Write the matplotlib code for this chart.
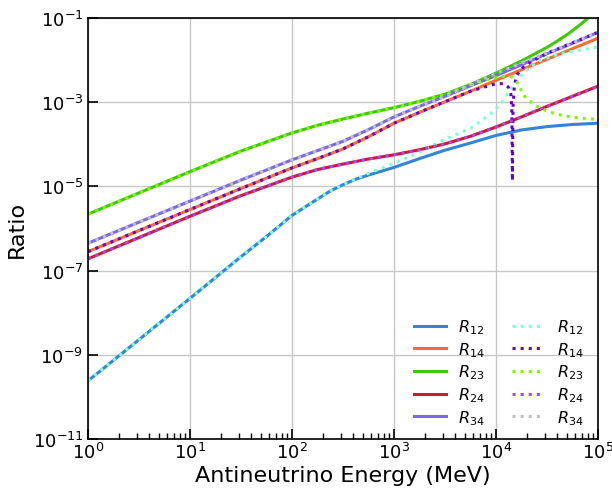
import numpy as np
import matplotlib
matplotlib.use("Agg")
import matplotlib.pyplot as plt
from matplotlib.ticker import LogLocator, NullLocator

# energies (MeV) shared by most curves
E = [1, 10, 31.62, 100, 177.8, 316.2, 562.3, 1000, 1778, 3162, 5623,
     1e4, 17783, 31623, 56234, 1e5]

E12 = [1, 10, 31.62, 56.23, 100, 177.8, 237.1, 316.2, 421.7, 562.3, 749.9, 1000,
       1778, 3162, 5623, 1e4, 17783, 31623, 56234, 1e5]
r12 = [2.40e-10, 2.19e-8, 2.14e-7, 6.46e-7, 2.04e-6, 5.01e-6, 7.76e-6, 1.096e-5,
       1.479e-5, 1.862e-5, 2.29e-5, 2.82e-5, 4.57e-5, 7.24e-5, 1.072e-4,
       1.622e-4, 2.19e-4, 2.63e-4, 2.95e-4, 3.16e-4]
r14 = [2.82e-7, 2.82e-6, 8.91e-6, 2.75e-5, 4.57e-5, 7.76e-5, 1.514e-4, 3.16e-4,
       5.75e-4, 1.023e-3, 1.82e-3, 3.31e-3, 5.89e-3, 1.047e-2, 1.862e-2, 3.31e-2]
r24 = [1.905e-7, 1.95e-6, 6.03e-6, 1.66e-5, 2.51e-5, 3.39e-5, 4.47e-5, 5.62e-5,
       7.41e-5, 1.023e-4, 1.549e-4, 2.57e-4, 4.47e-4, 7.94e-4, 1.38e-3, 2.40e-3]
r34 = [4.47e-7, 4.47e-6, 1.413e-5, 4.27e-5, 7.08e-5, 1.175e-4, 2.24e-4, 4.47e-4,
       7.94e-4, 1.38e-3, 2.45e-3, 4.27e-3, 7.76e-3, 1.413e-2, 2.51e-2, 4.57e-2]

E23 = [1, 10, 31.62, 100, 177.8, 316.2, 562.3, 1000, 1778, 3162, 5623,
       1e4, 17783, 31623, 39811, 50119, 63096, 79433, 1e5]
r23 = [2.19e-6, 2.24e-5, 6.92e-5, 1.862e-4, 2.82e-4, 3.98e-4, 5.50e-4, 7.41e-4,
       1.047e-3, 1.549e-3, 2.63e-3, 4.90e-3, 9.55e-3, 2.0e-2, 2.82e-2, 4.07e-2,
       6.17e-2, 9.77e-2, 1.585e-1]

# approximations (dotted)
E12a = [1, 10, 31.62, 56.23, 100, 177.8, 237.1, 316.2, 421.7, 562.3, 1000, 1778,
        3162, 5623, 7079, 8913, 11220, 12589, 14125, 15849, 18621, 22387, 28184,
        39811, 56234, 1e5]
r12a = [2.40e-10, 2.19e-8, 2.14e-7, 6.46e-7, 2.04e-6, 5.01e-6, 7.76e-6, 1.096e-5,
        1.514e-5, 2.04e-5, 3.55e-5, 6.46e-5, 1.318e-4, 2.40e-4, 3.55e-4, 5.37e-4,
        9.12e-4, 1.413e-3, 2.19e-3, 3.16e-3, 5.01e-3, 7.41e-3, 1.023e-2, 1.349e-2,
        1.622e-2, 2.04e-2]

E14a = [1, 10, 31.62, 100, 177.8, 316.2, 562.3, 1000, 1778, 3162, 5623, 7943,
        1e4, 12023, 13183, 13964, 14289, 14488, 14689, 15136, 15849, 17783,
        22387, 31623, 56234, 1e5]
r14a = [2.82e-7, 2.82e-6, 8.91e-6, 2.75e-5, 4.57e-5, 7.76e-5, 1.514e-4, 3.16e-4,
        5.75e-4, 1.023e-3, 1.82e-3, 2.34e-3, 2.75e-3, 2.75e-3, 2.29e-3, 1.585e-3,
        7.08e-4, 1.35e-5, 7.94e-4, 2.40e-3, 4.17e-3, 6.31e-3, 9.33e-3, 1.445e-2,
        2.57e-2, 4.57e-2]

E23a = [1, 10, 31.62, 100, 177.8, 316.2, 562.3, 1000, 1778, 3162, 5623, 7943,
        1e4, 12023, 14125, 15849, 17378, 19055, 20893, 23988, 28184, 32359,
        38905, 47863, 57544, 69183, 1e5]
r23a = [2.19e-6, 2.24e-5, 6.92e-5, 1.862e-4, 2.82e-4, 3.98e-4, 5.50e-4, 7.41e-4,
        1.047e-3, 1.549e-3, 2.51e-3, 3.39e-3, 3.80e-3, 4.17e-3, 4.07e-3, 3.16e-3,
        2.09e-3, 1.38e-3, 1.096e-3, 8.51e-4, 6.92e-4, 6.03e-4, 5.25e-4, 4.68e-4,
        4.37e-4, 4.17e-4, 3.89e-4]

r24a = r24
r34a = [4.47e-7, 4.47e-6, 1.413e-5, 4.27e-5, 7.08e-5, 1.175e-4, 2.24e-4, 4.47e-4,
        7.94e-4, 1.38e-3, 2.63e-3, 4.79e-3, 8.51e-3, 1.479e-2, 2.51e-2, 4.57e-2]

fig = plt.figure(figsize=(6.12, 4.89), dpi=100)
ax = fig.add_axes([0.1438, 0.1002, 0.8333, 0.8610])

lw = 2.2
ax.plot(E12, r12, color="#3584dc", lw=lw, label="$R_{12}$")
ax.plot(E, r14, color="#ff6a33", lw=lw, label="$R_{14}$")
ax.plot(E23, r23, color="#3ec80a", lw=lw, label="$R_{23}$")
ax.plot(E, r24, color="#d01a2a", lw=lw, label="$R_{24}$")
ax.plot(E, r34, color="#7b68ee", lw=lw, label="$R_{34}$")

ax.plot(E12a, r12a, ":", color="#7fffd4", lw=lw, label="$R_{12}$")
ax.plot(E14a, r14a, ":", color="#6400d2", lw=lw, label="$R_{14}$")
ax.plot(E23a, r23a, ":", color="#7cfc00", lw=lw, label="$R_{23}$")
ax.plot(E, r24a, ":", color="#aa44ff", lw=lw, label="$R_{24}$")
ax.plot(E, r34a, ":", color="#c0c0c0", lw=lw, label="$R_{34}$")

ax.set_xscale("log")
ax.set_yscale("log")
ax.set_xlim(1, 1e5)
ax.set_ylim(1e-11, 1e-1)
ax.set_yticks([1e-11, 1e-9, 1e-7, 1e-5, 1e-3, 1e-1])
ax.yaxis.set_minor_locator(NullLocator())
ax.xaxis.set_major_locator(LogLocator(base=10, numticks=10))
ax.xaxis.set_minor_locator(LogLocator(base=10, subs=np.arange(2, 10), numticks=10))

ax.grid(True, which="major", color="0.78", lw=1)
ax.tick_params(which="both", direction="in", labelsize=13)
ax.tick_params(which="major", length=7, width=1.2)
ax.tick_params(axis="x", which="major", pad=2)
ax.tick_params(which="minor", length=4, width=1)
for s in ax.spines.values():
    s.set_linewidth(1.2)

ax.set_xlabel("Antineutrino Energy (MeV)", fontsize=16, labelpad=2)
ax.set_ylabel("Ratio", fontsize=16)

ax.legend(ncol=2, loc="lower right", frameon=False, fontsize=11.5,
          handlelength=2.0, columnspacing=1.7, labelspacing=0.25,
          bbox_to_anchor=(1.0, -0.005))

fig.savefig("out.png")
